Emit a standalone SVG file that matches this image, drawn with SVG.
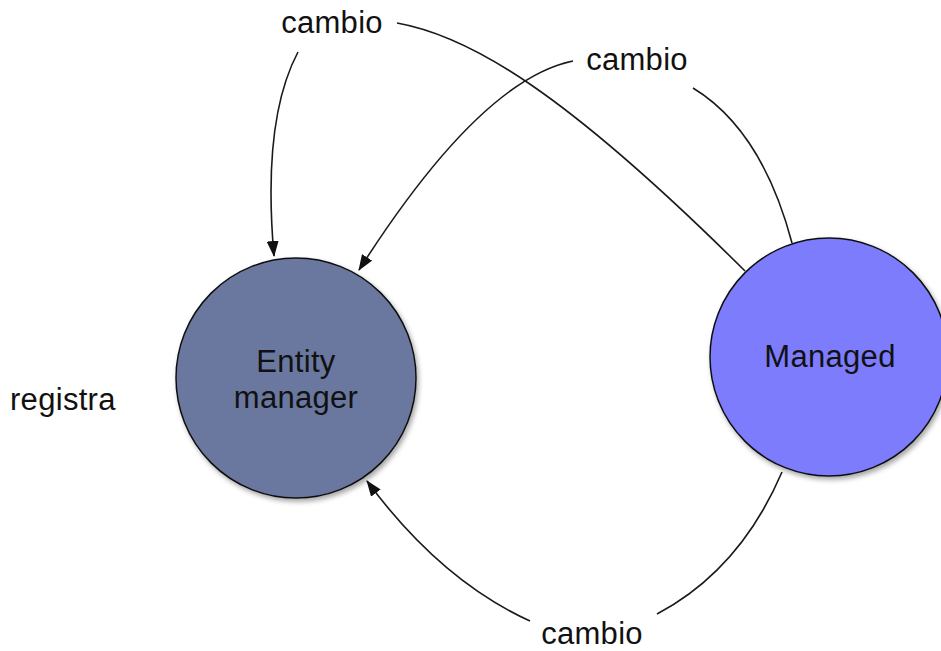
<svg xmlns="http://www.w3.org/2000/svg" width="941" height="651" viewBox="0 0 941 651">
<style>
  .lbl { font-family: "Liberation Sans", Arial, sans-serif; font-size: 31px; fill: #111; letter-spacing: 0.3px; }
  .edge { fill: none; stroke: #1a1a1a; stroke-width: 1.6; }
  .node { stroke: #111; stroke-width: 1.5; filter: url(#sh); }
</style>
<defs>
  <marker id="arr" markerUnits="userSpaceOnUse" markerWidth="16" markerHeight="12" viewBox="0 0 16 12" refX="15" refY="6" orient="auto">
    <path d="M0,0 L16,6 L0,12 z" fill="#111"/>
  </marker>
  <filter id="sh" x="-10%" y="-10%" width="125%" height="125%">
    <feDropShadow dx="2" dy="3" stdDeviation="2.5" flood-color="#000" flood-opacity="0.35"/>
  </filter>
</defs>
<rect width="941" height="651" fill="#fff"/>
<g id="connectors">
  <path class="edge" d="M298,52 Q262,120 274,256" marker-end="url(#arr)"/>
  <path class="edge" d="M397,23 C470,36 565,92 745,271"/>
  <path class="edge" d="M573,61 Q480,80 359,270" marker-end="url(#arr)"/>
  <path class="edge" d="M693,88 Q762,130 792,243"/>
  <path class="edge" d="M782,472 Q740,570 657,614"/>
  <path class="edge" d="M530,621 Q440,580 367,481" marker-end="url(#arr)"/>
</g>
<g id="node-entity-manager">
  <circle class="node" cx="296" cy="378" r="120" fill="#6a78a0"/>
  <text class="lbl" x="296" y="372" text-anchor="middle">Entity</text>
  <text class="lbl" x="296" y="408" text-anchor="middle">manager</text>
</g>
<g id="node-managed">
  <circle class="node" cx="829" cy="357" r="119" fill="#7b7bfd"/>
  <text class="lbl" x="830" y="367" text-anchor="middle">Managed</text>
</g>
<g id="labels">
  <text class="lbl" x="332" y="33" text-anchor="middle">cambio</text>
  <text class="lbl" x="637" y="70" text-anchor="middle">cambio</text>
  <text class="lbl" x="592" y="644" text-anchor="middle">cambio</text>
  <text class="lbl" x="10" y="410">registra</text>
</g>
</svg>
